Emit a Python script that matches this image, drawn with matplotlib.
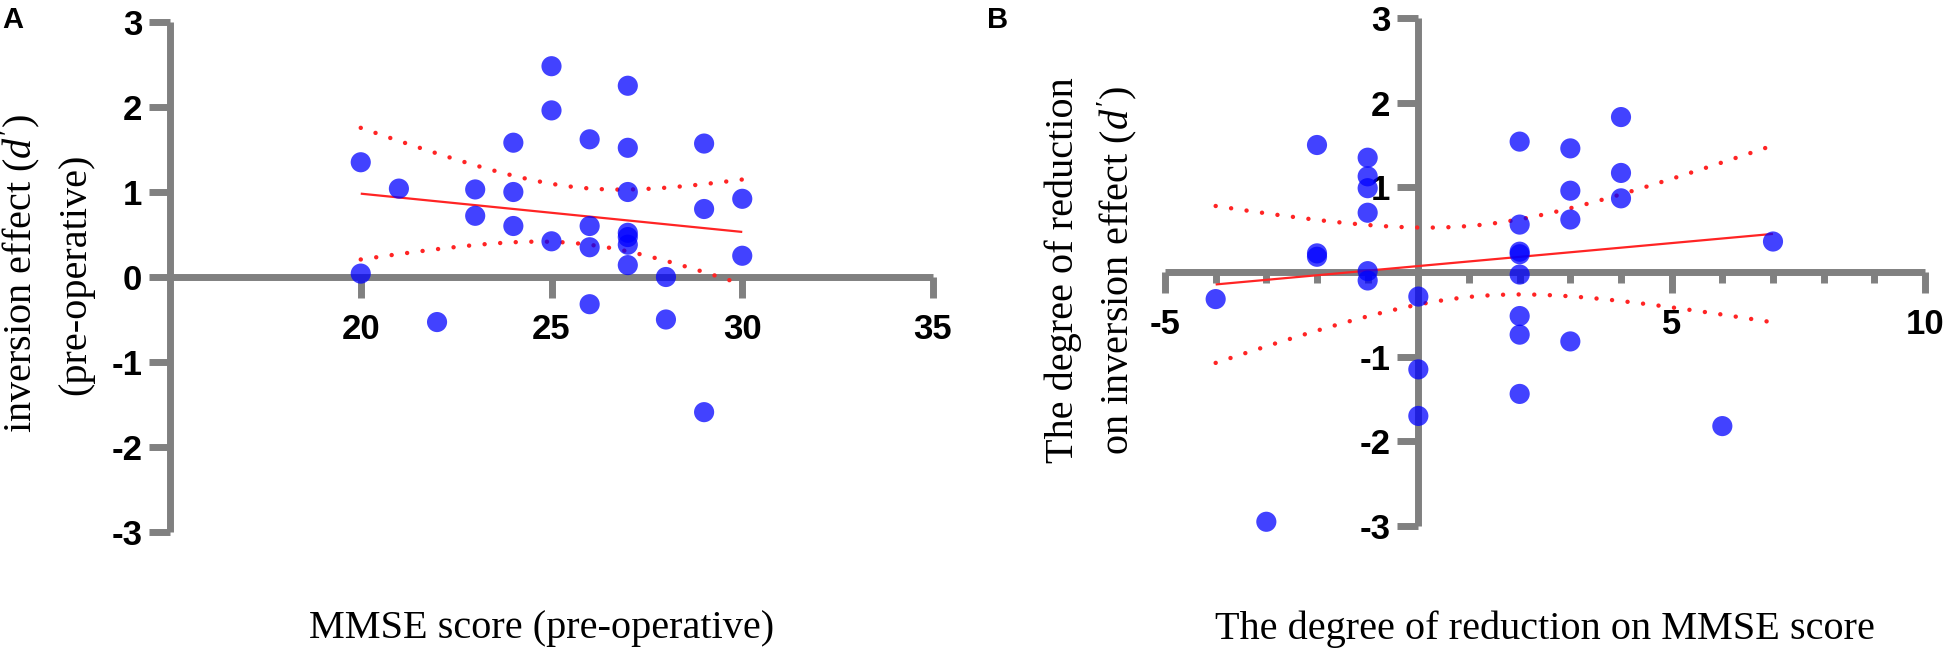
import numpy as np
import matplotlib
matplotlib.use("Agg")
import matplotlib.pyplot as plt

# ---------------- data ----------------
# Panel A: MMSE score (pre-operative) vs inversion effect d' (pre-operative)
a_mmse = [20, 20, 21, 22, 23, 23, 24, 24, 24, 25, 25, 25, 26, 26, 26, 26,
          27, 27, 27, 27, 27, 27, 27, 28, 28, 29, 29, 29, 30, 30]
a_inv = [1.35, 0.04, 1.04, -0.53, 1.03, 0.72, 1.58, 1.00, 0.60, 2.48, 1.96, 0.42,
         1.62, 0.60, 0.35, -0.32, 2.25, 1.52, 1.00, 0.52, 0.47, 0.38, 0.14,
         0.00, -0.50, 1.57, 0.80, -1.59, 0.92, 0.25]

# Panel B: reduction on MMSE score vs reduction on inversion effect d'
b_mmse_red = [-4, -3, -2, -2, -2, -1, -1, -1, -1, -1, -1, 0, 0, 0,
              2, 2, 2, 2, 2, 2, 2, 2, 3, 3, 3, 3, 4, 4, 4, 6, 7]
b_inv_red = [-0.32, -2.95, 1.50, 0.22, 0.18, 1.35, 1.13, 0.99, 0.70, 0.01, -0.10,
             -0.29, -1.15, -1.70, 1.54, 0.56, 0.24, 0.21, -0.03, -0.52, -0.74, -1.44,
             1.46, 0.96, 0.62, -0.82, 1.83, 1.17, 0.87, -1.82, 0.36]

a_xticks = [20, 25, 30, 35]
a_yticks = [-3, -2, -1, 0, 1, 2, 3]
b_xticks = [-5, 5, 10]
b_xminor = [-4, -3, -2, -1, 1, 2, 3, 4, 6, 7, 8, 9]
b_yticks = [-3, -2, -1, 1, 2, 3]

T_CRIT = 2.048  # 95% two-sided t value (df ~ 28-29)

# ---------------- style ----------------
GRAY = "#808080"
BLUE = "#0000ff"
RED = "#ff2424"
SERIF = ["Liberation Serif", "DejaVu Serif"]
SANS = ["Liberation Sans", "DejaVu Sans"]
plt.rcParams["mathtext.fontset"] = "custom"
plt.rcParams["mathtext.rm"] = "Liberation Serif"
plt.rcParams["mathtext.it"] = "Liberation Serif:italic"

W, H = 1950, 659
fig = plt.figure(figsize=(W / 100, H / 100), dpi=100)
axA = fig.add_axes([170 / W, (H - 532) / H, (933 - 170) / W, (532 - 22) / H])
axB = fig.add_axes([1165 / W, (H - 526) / H, (1925 - 1165) / W, (526 - 18) / H])


def fit_band(x, y, n_pts=200):
    x = np.asarray(x, float)
    y = np.asarray(y, float)
    n = len(x)
    slope, icpt = np.polyfit(x, y, 1)
    xs = np.linspace(x.min(), x.max(), n_pts)
    yhat = icpt + slope * xs
    resid = y - (icpt + slope * x)
    s = np.sqrt(np.sum(resid ** 2) / (n - 2))
    sxx = np.sum((x - x.mean()) ** 2)
    se = s * np.sqrt(1.0 / n + (xs - x.mean()) ** 2 / sxx)
    return xs, yhat, yhat - T_CRIT * se, yhat + T_CRIT * se


def style_axes(ax):
    ax.set_facecolor("none")
    for side in ("top", "right"):
        ax.spines[side].set_visible(False)
    for side in ("left", "bottom"):
        ax.spines[side].set_color(GRAY)
        ax.spines[side].set_linewidth(5)
        ax.spines[side].set_capstyle("butt")
    ax.tick_params(which="both", direction="out", color=GRAY, width=5,
                   labelcolor="black")
    ax.tick_params(which="major", length=15)
    ax.tick_params(which="minor", length=8)
    ax.tick_params(axis="x", pad=11)
    ax.tick_params(axis="y", pad=5)


def draw_panel(ax, x, y):
    xs, yhat, lo, hi = fit_band(x, y)
    ax.plot(xs, yhat, color=RED, lw=1.6, zorder=2.6, solid_capstyle="butt")
    for band in (lo, hi):
        ax.plot(xs, band, color=RED, lw=3.2, linestyle=(0, (0.01, 3.5)),
                dash_capstyle="round", zorder=2.6)
    ax.scatter(x, y, s=14.5 ** 2, c=BLUE, alpha=0.74, edgecolors="none",
               zorder=3, clip_on=False)


tick_font = dict(fontfamily=SANS, fontweight="bold", fontsize=25)

# ---- Panel A ----
style_axes(axA)
axA.set_xlim(15, 35)
axA.set_ylim(-3, 3)
axA.spines["bottom"].set_position(("data", 0))
draw_panel(axA, a_mmse, a_inv)
axA.set_xticks(a_xticks, [str(t) for t in a_xticks], **tick_font)
axA.set_yticks(a_yticks, [str(t) for t in a_yticks], **tick_font)

# ---- Panel B ----
style_axes(axB)
axB.set_xlim(-5, 10)
axB.set_ylim(-3, 3)
axB.spines["bottom"].set_position(("data", 0))
axB.spines["left"].set_position(("data", 0))
draw_panel(axB, b_mmse_red, b_inv_red)
axB.set_xticks(b_xticks, [str(t) for t in b_xticks], **tick_font)
axB.set_xticks(b_xminor, minor=True)
axB.set_yticks(b_yticks, [str(t) for t in b_yticks], **tick_font)

# ---- labels ----
lab = dict(fontfamily=SERIF, fontsize=29, color="black")
fig.text(20 / W, (H - 274) / H, "inversion effect ($d'$)", rotation=90,
         ha="center", va="center", **lab)
fig.text(76 / W, (H - 274) / H, "(pre-operative)", rotation=90,
         ha="center", va="center", **lab)
fig.text(1063 / W, (H - 270) / H, "The degree of reduction", rotation=90,
         ha="center", va="center", **lab)
fig.text(1117 / W, (H - 270) / H, "on inversion effect ($d'$)", rotation=90,
         ha="center", va="center", **lab)
fig.text(542 / W, (H - 638) / H, "MMSE score (pre-operative)",
         ha="center", va="baseline", **lab)
fig.text(1545 / W, (H - 639) / H, "The degree of reduction on MMSE score",
         ha="center", va="baseline", **lab)

letter = dict(fontfamily=SANS, fontweight="bold", fontsize=21, color="black")
fig.text(2 / W, (H - 6) / H, "A", ha="left", va="top", **letter)
fig.text(987 / W, (H - 6) / H, "B", ha="left", va="top", **letter)

fig.savefig("out.png", dpi=100)
